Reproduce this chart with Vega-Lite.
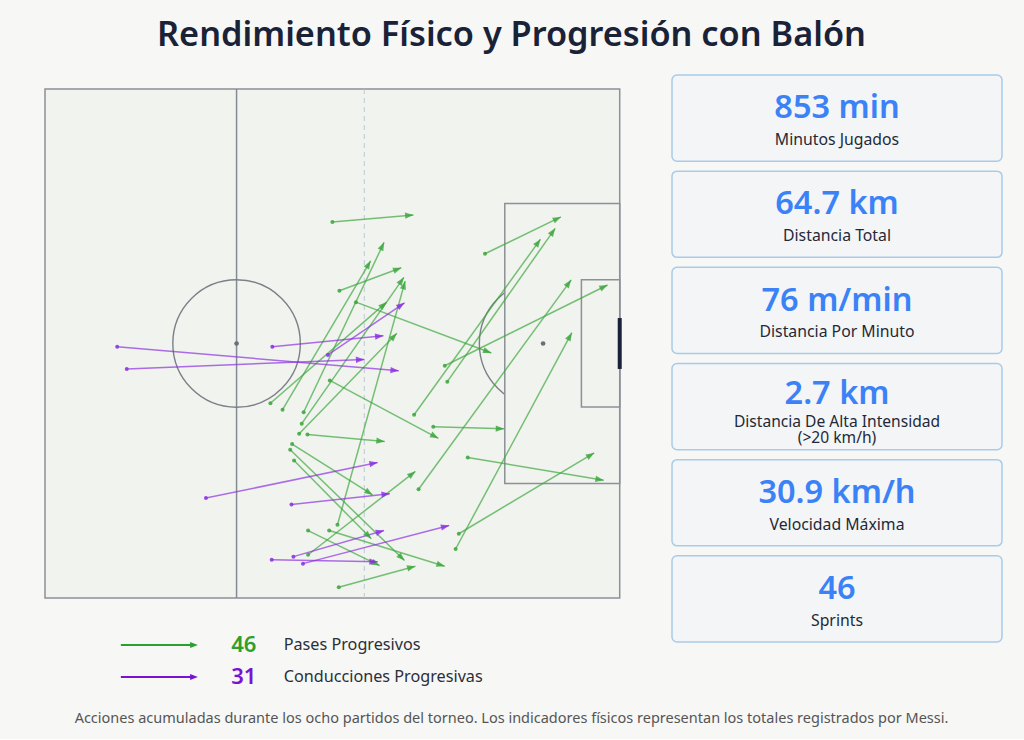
{
  "$schema": "https://vega.github.io/schema/vega-lite/v6.json",
  "background": "#f7f7f6",
  "padding": {"left": 44, "top": 18, "right": 22, "bottom": 13},
  "config": {
    "view": {"stroke": null},
    "font": "Noto Sans",
    "text": {"font": "Noto Sans"}
  },
  "title": {
    "text": "Rendimiento Físico y Progresión con Balón",
    "fontSize": 34.3,
    "fontWeight": 600,
    "color": "#1a2238",
    "anchor": "middle",
    "dx": -12,
    "offset": 21
  },
  "datasets": {
    "zonas": [
      {"zona": "campo", "x0": 30, "x1": 120, "y0": 0, "y1": 80},
      {"zona": "area grande", "x0": 102, "x1": 120, "y0": 18, "y1": 62},
      {"zona": "area chica", "x0": 114, "x1": 120, "y0": 30, "y1": 50}
    ],
    "lineas": [
      {"linea": "medio campo", "x": 60, "y0": 0, "y1": 80},
      {"linea": "ultimo tercio", "x": 80, "y0": 0, "y1": 80}
    ],
    "puntos": [
      {"punto": "centro", "x": 60, "y": 40},
      {"punto": "penal", "x": 108, "y": 40}
    ],
    "porteria": [{"x": 120, "y0": 36, "y1": 44}],
    "acciones": [
      {"accion": "Pases Progresivos", "x0": 75.0, "y0": 20.9, "x1": 87.7, "y1": 19.8},
      {"accion": "Pases Progresivos", "x0": 98.9, "y0": 25.9, "x1": 110.8, "y1": 20.1},
      {"accion": "Pases Progresivos", "x0": 76.1, "y0": 31.7, "x1": 85.8, "y1": 28.1},
      {"accion": "Pases Progresivos", "x0": 78.7, "y0": 33.5, "x1": 99.9, "y1": 41.5},
      {"accion": "Pases Progresivos", "x0": 93.0, "y0": 46.0, "x1": 109.9, "y1": 21.9},
      {"accion": "Pases Progresivos", "x0": 87.8, "y0": 51.2, "x1": 107.6, "y1": 23.6},
      {"accion": "Pases Progresivos", "x0": 92.6, "y0": 43.5, "x1": 118.1, "y1": 30.8},
      {"accion": "Pases Progresivos", "x0": 88.5, "y0": 62.9, "x1": 112.4, "y1": 30.0},
      {"accion": "Pases Progresivos", "x0": 94.3, "y0": 72.3, "x1": 112.5, "y1": 38.3},
      {"accion": "Pases Progresivos", "x0": 94.8, "y0": 69.9, "x1": 116.0, "y1": 57.2},
      {"accion": "Pases Progresivos", "x0": 96.2, "y0": 57.9, "x1": 117.5, "y1": 61.5},
      {"accion": "Pases Progresivos", "x0": 90.8, "y0": 53.1, "x1": 101.9, "y1": 53.4},
      {"accion": "Pases Progresivos", "x0": 71.1, "y0": 54.3, "x1": 83.2, "y1": 55.4},
      {"accion": "Pases Progresivos", "x0": 74.6, "y0": 45.8, "x1": 91.6, "y1": 54.9},
      {"accion": "Pases Progresivos", "x0": 65.3, "y0": 49.4, "x1": 83.5, "y1": 33.5},
      {"accion": "Pases Progresivos", "x0": 67.2, "y0": 50.4, "x1": 81.0, "y1": 27.0},
      {"accion": "Pases Progresivos", "x0": 70.5, "y0": 50.8, "x1": 83.1, "y1": 24.1},
      {"accion": "Pases Progresivos", "x0": 70.2, "y0": 52.6, "x1": 86.2, "y1": 29.6},
      {"accion": "Pases Progresivos", "x0": 75.8, "y0": 68.5, "x1": 86.4, "y1": 30.2},
      {"accion": "Pases Progresivos", "x0": 69.8, "y0": 54.2, "x1": 85.1, "y1": 38.4},
      {"accion": "Pases Progresivos", "x0": 68.7, "y0": 55.8, "x1": 81.3, "y1": 63.8},
      {"accion": "Pases Progresivos", "x0": 68.4, "y0": 56.7, "x1": 86.3, "y1": 74.1},
      {"accion": "Pases Progresivos", "x0": 69.0, "y0": 58.4, "x1": 81.1, "y1": 70.7},
      {"accion": "Pases Progresivos", "x0": 71.2, "y0": 73.2, "x1": 88.0, "y1": 60.1},
      {"accion": "Pases Progresivos", "x0": 71.2, "y0": 69.4, "x1": 82.4, "y1": 74.9},
      {"accion": "Pases Progresivos", "x0": 74.5, "y0": 69.4, "x1": 92.6, "y1": 75.0},
      {"accion": "Pases Progresivos", "x0": 76.0, "y0": 78.3, "x1": 88.0, "y1": 75.0},
      {"accion": "Conducciones Progresivas", "x0": 41.3, "y0": 40.5, "x1": 85.4, "y1": 44.3},
      {"accion": "Conducciones Progresivas", "x0": 42.8, "y0": 44.0, "x1": 80.0, "y1": 42.5},
      {"accion": "Conducciones Progresivas", "x0": 65.6, "y0": 40.5, "x1": 83.0, "y1": 38.8},
      {"accion": "Conducciones Progresivas", "x0": 74.3, "y0": 41.8, "x1": 86.3, "y1": 33.6},
      {"accion": "Conducciones Progresivas", "x0": 55.2, "y0": 64.3, "x1": 82.1, "y1": 58.7},
      {"accion": "Conducciones Progresivas", "x0": 68.6, "y0": 65.3, "x1": 84.0, "y1": 63.6},
      {"accion": "Conducciones Progresivas", "x0": 68.9, "y0": 73.5, "x1": 83.1, "y1": 69.4},
      {"accion": "Conducciones Progresivas", "x0": 65.5, "y0": 74.0, "x1": 82.1, "y1": 74.3},
      {"accion": "Conducciones Progresivas", "x0": 70.4, "y0": 74.6, "x1": 93.3, "y1": 68.6}
    ],
    "resumen": [
      {"accion": "Pases Progresivos", "total": 46},
      {"accion": "Conducciones Progresivas", "total": 31}
    ],
    "indicadores": [
      {"orden": 1, "valor": "853 min", "indicador": "Minutos Jugados"},
      {"orden": 2, "valor": "64.7 km", "indicador": "Distancia Total"},
      {"orden": 3, "valor": "76 m/min", "indicador": "Distancia Por Minuto"},
      {"orden": 4, "valor": "2.7 km", "indicador": ["Distancia De Alta Intensidad", "(>20 km/h)"]},
      {"orden": 5, "valor": "30.9 km/h", "indicador": "Velocidad Máxima"},
      {"orden": 6, "valor": "46", "indicador": "Sprints"}
    ]
  },
  "vconcat": [
    {
      "title": {
        "text": "Acciones acumuladas durante los ocho partidos del torneo. Los indicadores físicos representan los totales registrados por Messi.",
        "orient": "bottom",
        "fontSize": 14.5,
        "fontWeight": "normal",
        "color": "#555555",
        "anchor": "middle",
        "dx": -12,
        "offset": 19
      },
      "spacing": 38,
      "hconcat": [
        {
          "spacing": 30,
          "resolve": {"scale": {"color": "independent"}},
          "vconcat": [
            {
              "width": 588,
              "height": 523,
              "layer": [
                {
                  "data": {"name": "zonas"},
                  "transform": [{"filter": "datum.zona == 'campo'"}],
                  "mark": {"type": "rect", "fill": "#f0f3ee", "stroke": "#8c9198", "strokeWidth": 1.5},
                  "encoding": {
                    "x": {"field": "x0", "type": "quantitative", "scale": {"domain": [30, 122.08], "nice": false, "zero": false}, "axis": null},
                    "x2": {"field": "x1"},
                    "y": {"field": "y0", "type": "quantitative", "scale": {"domain": [-2.2, 80], "nice": false, "zero": false, "reverse": true}, "axis": null},
                    "y2": {"field": "y1"}
                  }
                },
                {
                  "data": {"name": "lineas"},
                  "transform": [{"filter": "datum.linea == 'medio campo'"}],
                  "mark": {"type": "rule", "stroke": "#858b93", "strokeWidth": 1.5},
                  "encoding": {
                    "x": {"field": "x", "type": "quantitative", "scale": {"domain": [30, 122.08], "nice": false, "zero": false}, "axis": null},
                    "y": {"field": "y0", "type": "quantitative", "scale": {"domain": [-2.2, 80], "nice": false, "zero": false, "reverse": true}, "axis": null},
                    "y2": {"field": "y1"}
                  }
                },
                {
                  "data": {"name": "lineas"},
                  "transform": [{"filter": "datum.linea == 'ultimo tercio'"}],
                  "mark": {"type": "rule", "stroke": "#bcc8d4", "strokeWidth": 1, "strokeDash": [5, 4]},
                  "encoding": {
                    "x": {"field": "x", "type": "quantitative", "scale": {"domain": [30, 122.08], "nice": false, "zero": false}, "axis": null},
                    "y": {"field": "y0", "type": "quantitative", "scale": {"domain": [-2.2, 80], "nice": false, "zero": false, "reverse": true}, "axis": null},
                    "y2": {"field": "y1"}
                  }
                },
                {
                  "data": {"name": "puntos"},
                  "mark": {"type": "point", "shape": "circle", "filled": false, "size": 16256, "stroke": "#7b8088", "strokeWidth": 1.4, "opacity": 1},
                  "encoding": {
                    "x": {"field": "x", "type": "quantitative", "scale": {"domain": [30, 122.08], "nice": false, "zero": false}, "axis": null},
                    "y": {"field": "y", "type": "quantitative", "scale": {"domain": [-2.2, 80], "nice": false, "zero": false, "reverse": true}, "axis": null}
                  }
                },
                {
                  "data": {"name": "zonas"},
                  "transform": [{"filter": "datum.zona != 'campo'"}],
                  "mark": {"type": "rect", "fill": "#f0f3ee", "stroke": "#8c9198", "strokeWidth": 1.5},
                  "encoding": {
                    "x": {"field": "x0", "type": "quantitative", "scale": {"domain": [30, 122.08], "nice": false, "zero": false}, "axis": null},
                    "x2": {"field": "x1"},
                    "y": {"field": "y0", "type": "quantitative", "scale": {"domain": [-2.2, 80], "nice": false, "zero": false, "reverse": true}, "axis": null},
                    "y2": {"field": "y1"}
                  }
                },
                {
                  "data": {"name": "puntos"},
                  "mark": {"type": "point", "shape": "circle", "filled": true, "size": 22, "color": "#6b7078", "opacity": 1},
                  "encoding": {
                    "x": {"field": "x", "type": "quantitative", "scale": {"domain": [30, 122.08], "nice": false, "zero": false}, "axis": null},
                    "y": {"field": "y", "type": "quantitative", "scale": {"domain": [-2.2, 80], "nice": false, "zero": false, "reverse": true}, "axis": null}
                  }
                },
                {
                  "data": {"name": "porteria"},
                  "mark": {"type": "rule", "stroke": "#1a2238", "strokeWidth": 4},
                  "encoding": {
                    "x": {"field": "x", "type": "quantitative", "scale": {"domain": [30, 122.08], "nice": false, "zero": false}, "axis": null},
                    "y": {"field": "y0", "type": "quantitative", "scale": {"domain": [-2.2, 80], "nice": false, "zero": false, "reverse": true}, "axis": null},
                    "y2": {"field": "y1"}
                  }
                },
                {
                  "data": {"name": "acciones"},
                  "mark": {"type": "rule", "strokeWidth": 1.5, "opacity": 0.68},
                  "encoding": {
                    "x": {"field": "x0", "type": "quantitative", "scale": {"domain": [30, 122.08], "nice": false, "zero": false}, "axis": null},
                    "x2": {"field": "x1"},
                    "y": {"field": "y0", "type": "quantitative", "scale": {"domain": [-2.2, 80], "nice": false, "zero": false, "reverse": true}, "axis": null},
                    "y2": {"field": "y1"},
                    "color": {"field": "accion", "type": "nominal", "scale": {"domain": ["Pases Progresivos", "Conducciones Progresivas"], "range": ["#3aa53a", "#8a2be2"]}, "legend": null}
                  }
                },
                {
                  "data": {"name": "acciones"},
                  "mark": {"type": "point", "shape": "circle", "filled": true, "size": 16, "opacity": 0.85},
                  "encoding": {
                    "x": {"field": "x0", "type": "quantitative", "scale": {"domain": [30, 122.08], "nice": false, "zero": false}, "axis": null},
                    "y": {"field": "y0", "type": "quantitative", "scale": {"domain": [-2.2, 80], "nice": false, "zero": false, "reverse": true}, "axis": null},
                    "color": {"field": "accion", "type": "nominal", "scale": {"domain": ["Pases Progresivos", "Conducciones Progresivas"], "range": ["#3aa53a", "#8a2be2"]}, "legend": null}
                  }
                },
                {
                  "data": {"name": "acciones"},
                  "transform": [
                    {"calculate": "atan2((datum.y1 - datum.y0) * 6.3625, (datum.x1 - datum.x0) * 6.386) * 180 / PI", "as": "angulo"}
                  ],
                  "mark": {"type": "point", "shape": "M0,0L-2,-0.75L-2,0.75Z", "filled": true, "size": 70, "opacity": 0.8},
                  "encoding": {
                    "x": {"field": "x1", "type": "quantitative", "scale": {"domain": [30, 122.08], "nice": false, "zero": false}, "axis": null},
                    "y": {"field": "y1", "type": "quantitative", "scale": {"domain": [-2.2, 80], "nice": false, "zero": false, "reverse": true}, "axis": null},
                    "angle": {"field": "angulo", "type": "quantitative", "scale": null},
                    "color": {"field": "accion", "type": "nominal", "scale": {"domain": ["Pases Progresivos", "Conducciones Progresivas"], "range": ["#3aa53a", "#8a2be2"]}, "legend": null}
                  }
                }
              ]
            },
            {
              "width": 588,
              "height": 64,
              "data": {"name": "resumen"},
              "encoding": {
                "y": {"field": "accion", "type": "nominal", "scale": {"type": "point", "padding": 0.5, "domain": ["Pases Progresivos", "Conducciones Progresivas"]}, "axis": null}
              },
              "layer": [
                {
                  "mark": {"type": "rule", "strokeWidth": 2},
                  "encoding": {
                    "x": {"datum": 12.9, "type": "quantitative", "scale": {"domain": [0, 100], "nice": false, "zero": false}, "axis": null},
                    "x2": {"datum": 25.0},
                    "color": {"field": "accion", "type": "nominal", "scale": {"domain": ["Pases Progresivos", "Conducciones Progresivas"], "range": ["#2ca02c", "#7a12d4"]}, "legend": null}
                  }
                },
                {
                  "mark": {"type": "point", "shape": "M0,0L-2,-0.75L-2,0.75Z", "filled": true, "size": 60, "opacity": 1},
                  "encoding": {
                    "x": {"datum": 26.0, "type": "quantitative", "scale": {"domain": [0, 100], "nice": false, "zero": false}, "axis": null},
                    "color": {"field": "accion", "type": "nominal", "scale": {"domain": ["Pases Progresivos", "Conducciones Progresivas"], "range": ["#2ca02c", "#7a12d4"]}, "legend": null}
                  }
                },
                {
                  "mark": {"type": "text", "fontSize": 22, "fontWeight": 600, "align": "center", "baseline": "middle"},
                  "encoding": {
                    "x": {"datum": 33.8, "type": "quantitative", "scale": {"domain": [0, 100], "nice": false, "zero": false}, "axis": null},
                    "text": {"field": "total", "type": "quantitative"},
                    "color": {"field": "accion", "type": "nominal", "scale": {"domain": ["Pases Progresivos", "Conducciones Progresivas"], "range": ["#2ca02c", "#7a12d4"]}, "legend": null}
                  }
                },
                {
                  "mark": {"type": "text", "fontSize": 16.2, "align": "left", "baseline": "middle", "color": "#2b2f36"},
                  "encoding": {
                    "x": {"datum": 40.6, "type": "quantitative", "scale": {"domain": [0, 100], "nice": false, "zero": false}, "axis": null},
                    "text": {"field": "accion", "type": "nominal"}
                  }
                }
              ]
            }
          ]
        },
        {
          "width": 330,
          "height": 567,
          "data": {"name": "indicadores"},
          "encoding": {
            "x": {"datum": 0.5, "type": "quantitative", "scale": {"domain": [0, 1], "nice": false, "zero": false}, "axis": null}
          },
          "layer": [
            {
              "mark": {"type": "rect", "fill": "#f3f5f7", "stroke": "#a9cbe9", "strokeWidth": 1.5, "cornerRadius": 5},
              "encoding": {
                "x": {"datum": 0, "type": "quantitative", "scale": {"domain": [0, 1], "nice": false, "zero": false}, "axis": null},
                "x2": {"datum": 1},
                "y": {"field": "orden", "type": "ordinal", "scale": {"type": "band", "paddingInner": 0.104, "paddingOuter": 0}, "axis": null}
              }
            },
            {
              "transform": [{"filter": "!isArray(datum.indicador)"}],
              "mark": {"type": "text", "fontSize": 32.5, "fontWeight": 600, "color": "#3b82f6", "align": "center", "baseline": "middle"},
              "encoding": {
                "y": {"field": "orden", "type": "ordinal", "bandPosition": 0.385, "axis": null},
                "text": {"field": "valor", "type": "nominal"}
              }
            },
            {
              "transform": [{"filter": "isArray(datum.indicador)"}],
              "mark": {"type": "text", "fontSize": 32.5, "fontWeight": 600, "color": "#3b82f6", "align": "center", "baseline": "middle"},
              "encoding": {
                "y": {"field": "orden", "type": "ordinal", "bandPosition": 0.35, "axis": null},
                "text": {"field": "valor", "type": "nominal"}
              }
            },
            {
              "transform": [{"filter": "!isArray(datum.indicador)"}],
              "mark": {"type": "text", "fontSize": 15.8, "color": "#1f2937", "align": "center", "baseline": "middle"},
              "encoding": {
                "y": {"field": "orden", "type": "ordinal", "bandPosition": 0.755, "axis": null},
                "text": {"field": "indicador", "type": "nominal"}
              }
            },
            {
              "transform": [{"filter": "isArray(datum.indicador)"}],
              "mark": {"type": "text", "fontSize": 15.6, "color": "#1f2937", "align": "center", "baseline": "middle", "lineHeight": 16},
              "encoding": {
                "y": {"field": "orden", "type": "ordinal", "bandPosition": 0.68, "axis": null},
                "text": {"field": "indicador", "type": "nominal"}
              }
            }
          ]
        }
      ]
    }
  ]
}
